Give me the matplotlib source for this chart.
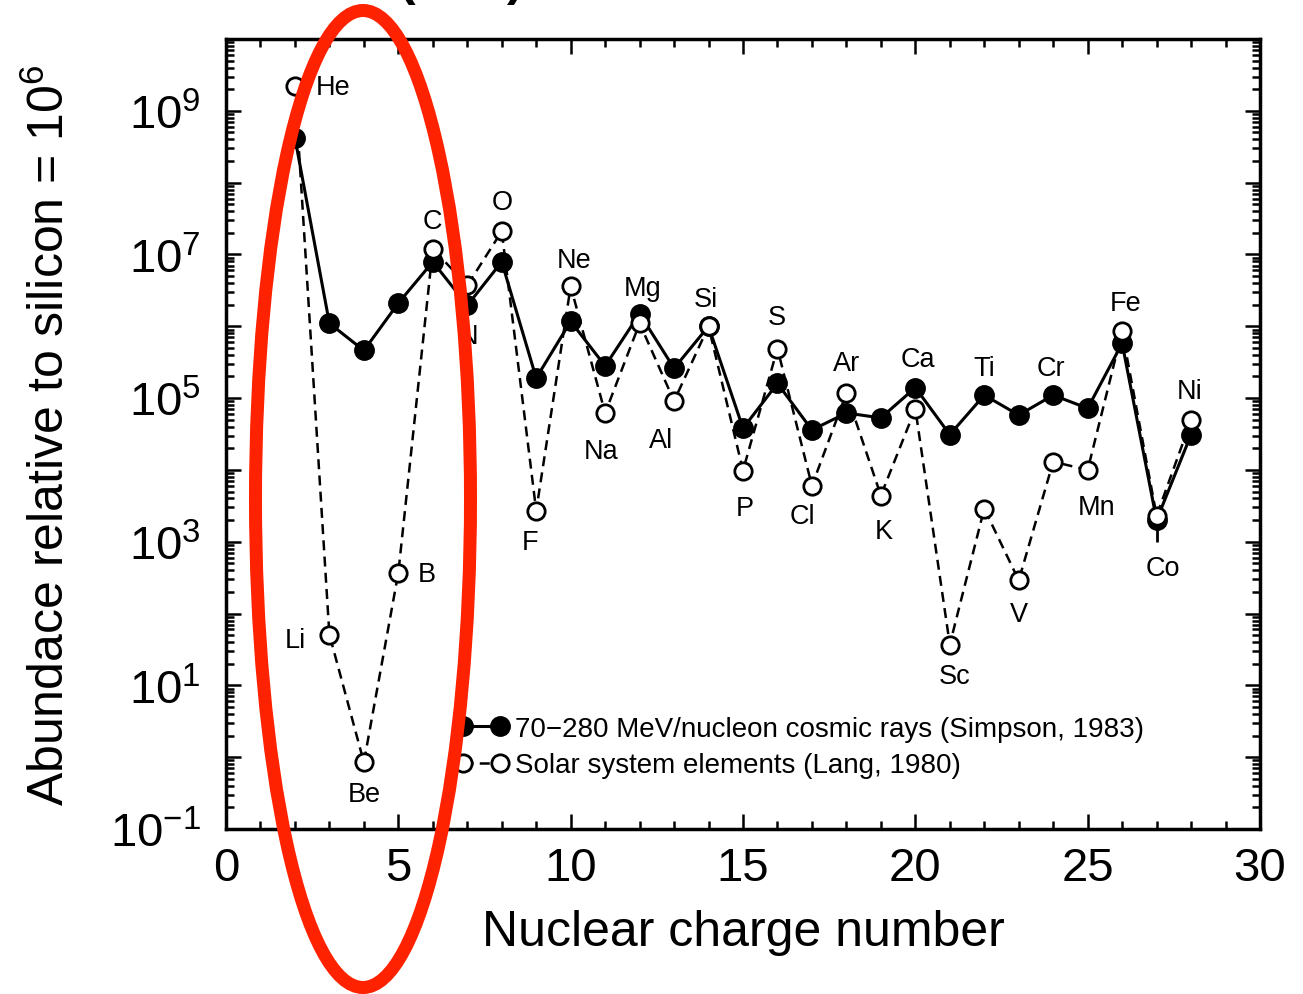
import numpy as np
import matplotlib
matplotlib.use("Agg")
import matplotlib.pyplot as plt
from matplotlib.patches import Ellipse
from matplotlib.ticker import (FixedLocator, MultipleLocator, LogLocator,
                               FuncFormatter, NullFormatter)

plt.rcParams["font.family"] = ["Liberation Sans", "DejaVu Sans"]
plt.rcParams["mathtext.fontset"] = "custom"
plt.rcParams["mathtext.rm"] = "Liberation Sans"
plt.rcParams["mathtext.it"] = "Liberation Sans:italic"
plt.rcParams["mathtext.bf"] = "Liberation Sans:bold"

# ---- data -----------------------------------------------------------------
elements = ["He", "Li", "Be", "B", "C", "N", "O", "F", "Ne", "Na", "Mg", "Al",
            "Si", "P", "S", "Cl", "Ar", "K", "Ca", "Sc", "Ti", "V", "Cr", "Mn",
            "Fe", "Co", "Ni"]
charge = list(range(2, 29))

# 70-280 MeV/nucleon cosmic rays (Simpson, 1983), Si = 1e6
cosmic_ray = [4.2e8, 1.1e6, 4.6e5, 2.1e6, 7.9e6, 1.95e6, 7.9e6, 1.9e5,
              1.17e6, 2.8e5, 1.5e6, 2.6e5, 1.0e6, 3.8e4, 1.6e5, 3.6e4,
              6.2e4, 5.3e4, 1.4e5, 3.1e4, 1.1e5, 5.8e4, 1.1e5, 7.2e4,
              5.8e5, 2.0e3, 3.1e4]

# Solar system elements (Lang, 1980), Si = 1e6
solar_system = [2.2e9, 51, 0.85, 3.7e2, 1.2e7, 3.7e6, 2.1e7, 2.7e3,
                3.6e6, 6.2e4, 1.1e6, 9.1e4, 1.0e6, 9.8e3, 4.9e5, 6.0e3,
                1.17e5, 4.4e3, 7.1e4, 37, 2.9e3, 2.9e2, 1.3e4, 1.0e4,
                8.5e5, 2.3e3, 4.9e4]

# lower end of the cobalt cosmic-ray error bar
co_cosmic_lower = 1.0e3

legend_labels = ["70\u2212280 MeV/nucleon cosmic rays (Simpson, 1983)",
                 "Solar system elements (Lang, 1980)"]

# element label placement: (series the label is attached to, dx px, dy px)
label_place = {
    "He": ("s", 38, -1), "Li": ("s", -34, -5), "Be": ("s", 0, -32),
    "B": ("s", 28, -1), "C": ("s", 0, 28), "N": ("c", 1, -31),
    "O": ("s", 1, 29), "F": ("s", -6, -31), "Ne": ("s", 3, 26),
    "Na": ("s", -4, -38), "Mg": ("c", 3, 26), "Al": ("s", -13, -39),
    "Si": ("s", -3, 27), "P": ("s", 2, -37), "S": ("s", -1, 32),
    "Cl": ("s", -9, -30), "Ar": ("s", 0, 30), "K": ("s", 3, -35),
    "Ca": ("c", 3, 29), "Sc": ("s", 5, -31), "Ti": ("c", 0, 27),
    "V": ("s", 0, -34), "Cr": ("c", -2, 27), "Mn": ("s", 9, -37),
    "Fe": ("s", 3, 28), "Co": ("s", 6, -52), "Ni": ("s", -1, 29),
}

PX = 0.72  # points per pixel at 100 dpi

# ---- figure ---------------------------------------------------------------
W, H = 1303, 995
fig = plt.figure(figsize=(W / 100, H / 100), dpi=100)
ax_left, ax_right, ax_top, ax_bottom = 226, 1260, 40, 830
ax = fig.add_axes([ax_left / W, 1 - ax_bottom / H,
                   (ax_right - ax_left) / W, (ax_bottom - ax_top) / H])

ax.set_yscale("log")
ax.set_xlim(0, 30)
ax.set_ylim(1e-1, 1e10)

co_idx = elements.index("Co")
ax.vlines(charge[co_idx], co_cosmic_lower, cosmic_ray[co_idx],
          color="black", lw=2.0, zorder=2)

cr_line, = ax.plot(charge, cosmic_ray, "-", color="black", lw=2.2,
                   marker="o", ms=13.5, mfc="black", mec="black", mew=1.5,
                   zorder=3, label=legend_labels[0])
ss_line, = ax.plot(charge, solar_system, "--", color="black", lw=1.8,
                   dashes=(4, 2.5), marker="o", ms=12.5, mfc="white",
                   mec="black", mew=2.0, zorder=4, label=legend_labels[1])

for i, el in enumerate(elements):
    series, dx, dy = label_place[el]
    yv = solar_system[i] if series == "s" else cosmic_ray[i]
    ax.annotate(el, xy=(charge[i], yv), xytext=(dx * PX, dy * PX),
                textcoords="offset points", ha="center", va="center",
                fontsize=19.5, zorder=6)

# ---- axes styling ---------------------------------------------------------
ax.xaxis.set_major_locator(MultipleLocator(5))
ax.xaxis.set_minor_locator(MultipleLocator(1))

decades = np.arange(-1, 11)
ax.yaxis.set_major_locator(FixedLocator(10.0 ** decades))


def decade_label(v, pos):
    e = int(round(np.log10(v)))
    if e % 2 == 0:
        return ""
    return r"$\mathregular{10^{%d}}$" % e


ax.yaxis.set_major_formatter(FuncFormatter(decade_label))
ax.yaxis.set_minor_locator(LogLocator(base=10, subs=np.arange(2, 10),
                                      numticks=100))
ax.yaxis.set_minor_formatter(NullFormatter())

ax.tick_params(which="both", direction="in", top=True, right=True,
               width=1.8, colors="black")
ax.tick_params(which="major", length=11, labelsize=34)
ax.tick_params(axis="x", which="major", pad=12)
ax.tick_params(axis="y", which="major", pad=18)
ax.tick_params(which="minor", length=6)
for sp in ax.spines.values():
    sp.set_linewidth(2.5)

ax.set_xlabel("Nuclear charge number", fontsize=36, labelpad=14)
ax.set_ylabel(r"Abundace relative to silicon = $\mathregular{10^{6}}$",
              fontsize=36)
ax.yaxis.set_label_coords(-0.147, 0.5)

leg = ax.legend(handles=[cr_line, ss_line], loc="center left",
                bbox_to_anchor=((455 - ax_left) / (ax_right - ax_left),
                                (ax_bottom - 748) / (ax_bottom - ax_top)),
                frameon=False, fontsize=20, numpoints=2, handlelength=1.93,
                handletextpad=0.22, borderpad=0, borderaxespad=0,
                labelspacing=0.38)

# heading above the plot, running off the top edge
fig.text(407 / W, 1 + 5 / H, "(", fontsize=36, fontweight="bold",
         ha="center", va="baseline")
fig.text(515 / W, 1 + 5 / H, ")", fontsize=36, fontweight="bold",
         ha="center", va="baseline")

# highlight around the light elements
fig.add_artist(Ellipse((363 / W, 1 - 500 / H), 215 / W, 977 / H,
                       transform=fig.transFigure, fill=False,
                       edgecolor="#ff2200", lw=13 * PX, zorder=10))

fig.savefig("out.png", dpi=100)
